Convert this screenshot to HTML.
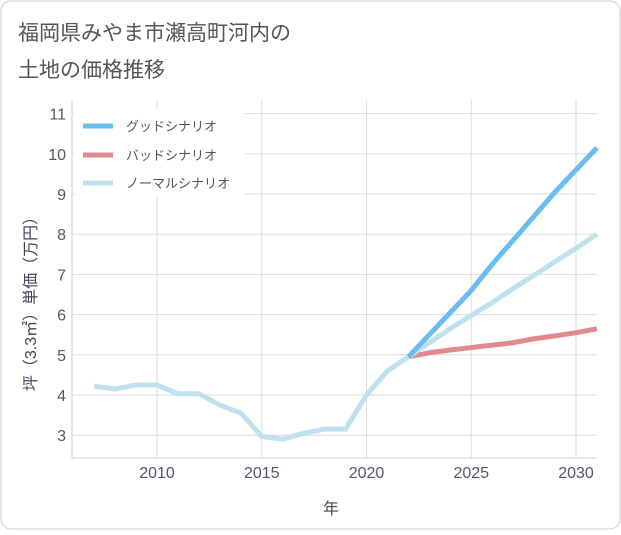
<!DOCTYPE html>
<html><head><meta charset="utf-8"><style>
body{margin:0;background:#fff;}
svg text{font-family:"Liberation Sans","Noto Sans CJK JP",sans-serif;}
</style></head><body>
<svg width="621" height="530" id="c">
<rect x="1" y="1" width="619" height="528" rx="10" fill="#fff" stroke="#ccc"/>
<text x="18" y="40" font-size="21" fill="#555">福岡県みやま市瀬高町河内の</text>
<text x="18" y="77" font-size="21" fill="#555">土地の価格推移</text>
<g id="grid"></g><g id="series"></g>
<text x="331" y="514" font-size="16" fill="#445" text-anchor="middle">年</text>
<text transform="translate(36,300) rotate(-90)" font-size="16" fill="#445" text-anchor="middle">坪（3.3㎡）単価（万円）</text>
<g>
<rect x="75" y="110" width="170" height="86" fill="#fff"/>
<line x1="83" y1="126" x2="113" y2="126" stroke="#6bbdf0" stroke-width="5"/>
<text x="126" y="131" font-size="13" fill="#555">グッドシナリオ</text>
<line x1="83" y1="155" x2="113" y2="155" stroke="#e08a8f" stroke-width="5"/>
<text x="126" y="160" font-size="13" fill="#555">バッドシナリオ</text>
<line x1="83" y1="183" x2="113" y2="183" stroke="#bfe0ee" stroke-width="5"/>
<text x="126" y="188" font-size="13" fill="#555">ノーマルシナリオ</text>
</g>
</svg>
<script>
const histYears=[2007,2008,2009,2010,2011,2012,2013,2014,2015,2016,2017,2018,2019,2020,2021,2022];
const histValues=[4.22,4.15,4.25,4.25,4.03,4.03,3.75,3.55,2.97,2.9,3.05,3.15,3.15,4.0,4.6,4.95];
const projYears=[2022,2023,2024,2025,2026,2027,2028,2029,2030,2031];
const goodValues=[4.95,5.5,6.05,6.6,7.25,7.85,8.45,9.05,9.6,10.15];
const badValues=[4.95,5.05,5.12,5.18,5.24,5.3,5.4,5.47,5.55,5.65];
const normalValues=[4.95,5.3,5.65,5.98,6.3,6.65,6.98,7.32,7.65,8.0];
const xTicks=[2010,2015,2020,2025,2030];
const yTicks=[3,4,5,6,7,8,9,10,11];
const L=72,R=597,T=100,B=458;
const X=y=>157+(y-2010)*20.95;
const Y=v=>395-(v-4)*40.2;
const NS="http://www.w3.org/2000/svg";
const g=document.getElementById('grid'),s=document.getElementById('series');
function mk(tag,a,p){const e=document.createElementNS(NS,tag);for(const k in a)e.setAttribute(k,a[k]);p.appendChild(e);return e;}
xTicks.forEach(t=>{
 const l=mk('line',{x1:X(t),x2:X(t),y1:T,y2:B,stroke:'#ddd'},g);
 
 
 const tx=mk('text',{x:X(t),y:478,'font-size':16,fill:'#556','text-anchor':'middle'},g);tx.textContent=t;
 
 
});
yTicks.forEach(t=>{
 const l=mk('line',{x1:L,x2:R,y1:Y(t),y2:Y(t),stroke:'#ddd'},g);
 
 
 const tx=mk('text',{x:66,y:Y(t)+6,'font-size':16,fill:'#556','text-anchor':'end'},g);tx.textContent=t;
 
 
});
const ax=mk('path',{d:`M${L} ${T}V${B}H${R}`,fill:'none',stroke:'#ccc'},g);


function line(xs,vs,c,n){const p=mk('polyline',{points:xs.map((x,i)=>X(x)+','+Y(vs[i])).join(' '),fill:'none',stroke:c,'stroke-width':5,'stroke-linejoin':'round'},s);
 
 }
line(projYears,badValues,'#e08a8f','bad-scenario-line');
line(projYears,normalValues,'#bfe0ee','normal-scenario-line');
line(projYears,goodValues,'#6bbdf0','good-scenario-line');
line(histYears,histValues,'#bfe0ee','historical-line');
</script>
</body></html>
